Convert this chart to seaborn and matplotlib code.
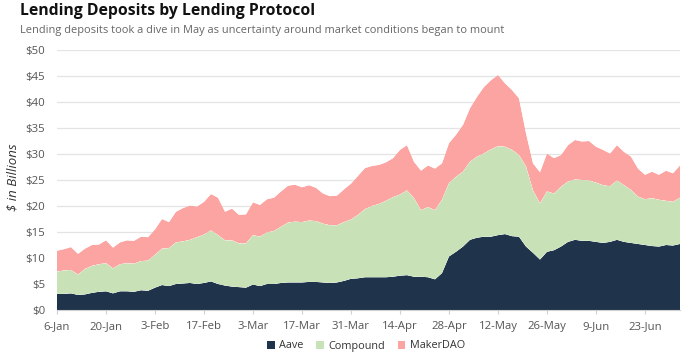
import numpy as np
import pandas as pd
import matplotlib
matplotlib.use("Agg")
import matplotlib.pyplot as plt
from matplotlib.patches import Patch
import seaborn as sns
import seaborn.objects as so

# ---- data (USD billions, every 2 days from 6-Jan-2021) ----
dates = pd.date_range("2021-01-06", periods=90, freq="2D")
aave = [3.1, 3.1, 3.2, 2.9, 3.0, 3.3, 3.5, 3.6, 3.2, 3.6,
        3.6, 3.5, 3.8, 3.7, 4.3, 4.8, 4.6, 5.0, 5.1, 5.2,
        5.0, 5.2, 5.5, 5.0, 4.7, 4.5, 4.4, 4.3, 4.9, 4.6,
        5.0, 5.0, 5.2, 5.3, 5.3, 5.3, 5.4, 5.4, 5.3, 5.2,
        5.3, 5.6, 6.0, 6.1, 6.3, 6.3, 6.3, 6.3, 6.4, 6.6,
        6.7, 6.4, 6.4, 6.3, 5.9, 7.1, 10.3, 11.2, 12.2, 13.5,
        13.9, 14.1, 14.1, 14.4, 14.6, 14.2, 14.1, 12.2, 11.0, 9.7,
        11.2, 11.5, 12.2, 13.1, 13.5, 13.3, 13.3, 13.1, 12.9, 13.1,
        13.5, 13.1, 12.9, 12.7, 12.5, 12.3, 12.2, 12.5, 12.4, 12.7]
compound = [4.3, 4.5, 4.5, 3.9, 4.9, 5.2, 5.3, 5.4, 4.8, 5.2,
            5.4, 5.4, 5.6, 5.8, 6.3, 7.0, 7.3, 8.0, 8.1, 8.3,
            9.0, 9.3, 9.8, 9.4, 8.7, 8.9, 8.4, 8.5, 9.5, 9.5,
            9.9, 10.2, 10.8, 11.5, 11.7, 11.6, 11.8, 11.7, 11.3, 11.1,
            11.0, 11.3, 11.4, 12.2, 13.1, 13.7, 14.1, 14.7, 15.3, 15.6,
            16.3, 15.1, 12.8, 13.5, 13.3, 14.1, 14.1, 14.4, 14.4, 15.0,
            15.6, 16.0, 16.8, 17.1, 16.8, 16.6, 15.7, 15.4, 12.0, 10.8,
            11.6, 10.9, 11.5, 11.6, 11.6, 11.7, 11.6, 11.4, 11.1, 10.7,
            11.4, 10.9, 10.2, 9.1, 8.8, 9.2, 9.0, 8.5, 8.4, 8.9]
makerdao = [4.0, 4.1, 4.4, 4.0, 3.9, 4.0, 3.8, 4.4, 4.0, 4.2,
            4.4, 4.4, 4.7, 4.5, 4.9, 5.7, 5.0, 5.9, 6.4, 6.6,
            5.9, 6.3, 7.0, 7.2, 5.5, 6.1, 5.5, 5.6, 6.3, 6.1,
            6.4, 6.4, 6.8, 7.1, 7.1, 6.7, 6.8, 6.4, 5.8, 5.6,
            5.7, 6.3, 6.9, 7.5, 7.9, 7.7, 7.5, 7.4, 7.5, 8.6,
            8.7, 7.0, 7.6, 8.0, 8.0, 7.0, 7.7, 8.1, 9.0, 10.3,
            11.5, 12.8, 13.3, 13.7, 12.2, 11.5, 10.9, 6.4, 5.2, 6.0,
            7.3, 6.8, 6.1, 7.0, 7.6, 7.4, 7.6, 6.9, 6.8, 6.3,
            6.8, 6.4, 6.4, 5.4, 4.7, 5.1, 4.8, 5.8, 5.5, 6.2]
protocols = ["Aave", "Compound", "MakerDAO"]
tick_dates = pd.date_range("2021-01-06", periods=13, freq="14D")
tick_labels = ["6-Jan", "20-Jan", "3-Feb", "17-Feb", "3-Mar", "17-Mar", "31-Mar",
               "14-Apr", "28-Apr", "12-May", "26-May", "9-Jun", "23-Jun"]
y_ticks = [0, 5, 10, 15, 20, 25, 30, 35, 40, 45, 50]
y_tick_labels = ["$" + str(v) for v in y_ticks]

title = "Lending Deposits by Lending Protocol"
subtitle = "Lending deposits took a dive in May as uncertainty around market conditions began to mount"

# ---- style ----
colors = ["#1f334a", "#c8e1b7", "#fca4a1"]
sns.set_theme(style="white")
plt.rcParams["font.family"] = ["Open Sans", "DejaVu Sans"]

df = pd.DataFrame({
    "date": np.tile(dates, 3),
    "protocol": np.repeat(protocols, len(dates)),
    "value": np.concatenate([aave, compound, makerdao]),
})

fig = plt.figure(figsize=(7, 3.54), dpi=100)
ax = fig.add_axes([57 / 700, 1 - 310 / 354, (680 - 57) / 700, 260 / 354])

(so.Plot(df, x="date", y="value", color="protocol")
    .add(so.Area(alpha=1, edgewidth=0), so.Stack())
    .scale(color=so.Nominal(colors, order=protocols))
    .on(ax)
    .plot())
fig.legends.clear()

ax.set_facecolor("white")
ax.set_xlim(dates[0], dates[-1])
ax.set_ylim(0, 50)
ax.set_yticks(y_ticks)
ax.set_yticklabels(y_tick_labels)
ax.set_xticks(tick_dates)
ax.set_xticklabels(tick_labels)
ax.set_xlabel("")
ax.set_ylabel("")
ax.set_axisbelow(True)
ax.grid(axis="y", color="#e4e4e4", linewidth=0.9)
ax.grid(axis="x", visible=False)
for s in ["top", "right", "left"]:
    ax.spines[s].set_visible(False)
ax.spines["bottom"].set_color("#d0d0d0")
ax.spines["bottom"].set_linewidth(0.8)
ax.tick_params(axis="x", colors="#d0d0d0", labelcolor="#555555", labelsize=8.2,
               length=3, width=0.8, pad=5, bottom=True)
ax.tick_params(axis="y", labelcolor="#555555", labelsize=8.2, length=0, pad=8.5, left=False)

fig.text(20 / 700, 1 - 11 / 354, title, fontsize=11.3, fontweight="bold",
         color="#111111", va="center", ha="left")
fig.text(20 / 700, 1 - 31 / 354, subtitle, fontsize=7.9, color="#666666",
         va="center", ha="left")
fig.text(13 / 700, 1 - 177 / 354, "$ in Billions", rotation=90, fontsize=9.5,
         style="italic", color="#333333", va="center", ha="center")

handles = [Patch(facecolor=c, edgecolor="none", label=p) for c, p in zip(colors, protocols)]
fig.legend(handles=handles, loc="center", bbox_to_anchor=(366 / 700, 1 - 346 / 354),
           ncol=3, frameon=False, fontsize=7.8, handlelength=0.7, handleheight=0.7,
           handletextpad=0.4, columnspacing=1.2, labelcolor="#333333")

fig.savefig("out.png", dpi=100)
